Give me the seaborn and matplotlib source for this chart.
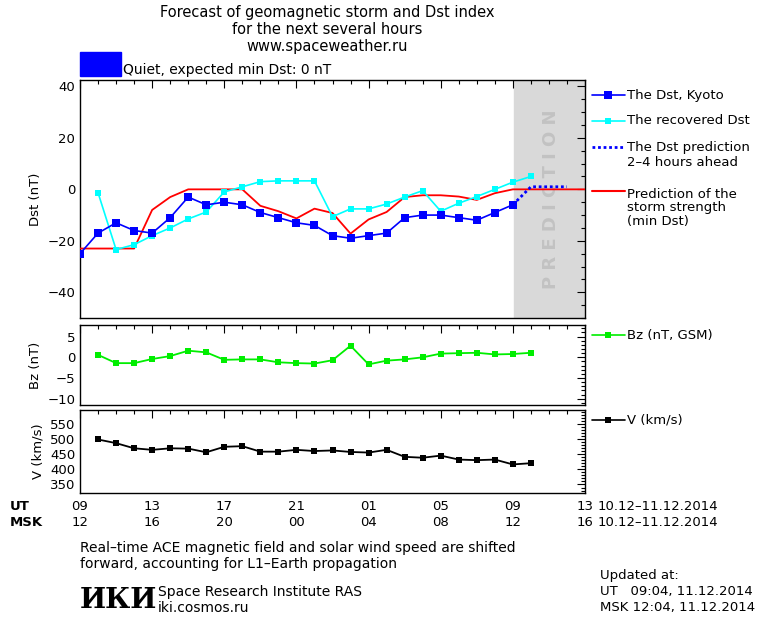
import numpy as np
import pandas as pd
import matplotlib
matplotlib.use("Agg")
import matplotlib.pyplot as plt
import seaborn as sns
from matplotlib.patches import Rectangle

sns.set_theme(style="white")
plt.rcParams['font.family'] = ['DejaVu Sans']
plt.rcParams.update({'text.color': 'black', 'axes.labelcolor': 'black',
                     'xtick.color': 'black', 'ytick.color': 'black'})

# hours counted from 00 UT of 10.12.2014
dst_hours = list(range(9, 34))
dst_kyoto = [-25, -17, -13, -16, -17, -11, -3, -6, -5, -6, -9, -11, -13, -14,
             -18, -19, -18, -17, -11, -10, -10, -11, -12, -9, -6]
rec_hours = list(range(10, 35))
dst_recovered = [-1.3, -23.4, -21.5, -18, -15, -11.5, -8.8, -1, 1, 3, 3.3, 3.3, 3.3,
                 -10.6, -7.6, -7.6, -5.7, -3, -0.5, -8.5, -5.4, -2.8, 0, 2.8, 5]
pred_hours = [33, 34, 36]
dst_pred = [-6, 1, 1]
storm_hours = [9, 12, 13, 14, 15, 16, 17, 18, 19, 20, 21, 22, 23, 24, 25, 26, 27,
               28, 29, 30, 31, 32, 33, 37]
storm_min = [-23, -23, -8, -3, 0, 0, 0, 0, -6.4, -8.5, -11.3, -7.5, -9.2, -17.2,
             -11.7, -8.8, -3, -2.3, -2.3, -2.8, -4.1, -1.5, 0, 0]
sw_hours = list(range(10, 35))
bz = [0.6, -1.4, -1.4, -0.4, 0.3, 1.6, 1.2, -0.6, -0.5, -0.5, -1.2, -1.4, -1.5,
      -0.7, 2.8, -1.7, -0.8, -0.5, 0, 0.9, 1, 1.1, 0.7, 0.8, 1.1]
speed = [498, 486, 469, 464, 469, 468, 456, 474, 476, 458, 458, 464, 460, 462,
         457, 455, 464, 441, 438, 445, 432, 430, 432, 416, 420]
ut_labels = ["09", "13", "17", "21", "01", "05", "09", "13"]
msk_labels = ["12", "16", "20", "00", "04", "08", "12", "16"]

fig = plt.figure(figsize=(7.6, 6.2), dpi=100)
fig.patch.set_facecolor("white")
ax1 = fig.add_axes([80/760, 1-318/620, 505/760, 238/620])
ax2 = fig.add_axes([80/760, 1-405/620, 505/760, 80/620])
ax3 = fig.add_axes([80/760, 1-493/620, 505/760, 83/620])

fs = 9.5
for ax in (ax1, ax2, ax3):
    ax.set_xlim(9, 37)
    ax.set_xticks(range(9, 38, 4))
    ax.set_xticks(range(9, 38), minor=True)
    ax.tick_params(which="both", direction="in", top=True, right=True,
                   labelsize=fs, length=6, width=0.8, colors="black")
    ax.tick_params(which="minor", length=3)
    ax.tick_params(axis="x", labelbottom=False)
    for s in ax.spines.values():
        s.set_color("black")
        s.set_linewidth(1)
    ax.set_facecolor("white")

# Dst panel
ax1.axvspan(33.08, 37, color="#d9d9d9", zorder=0)
ax1.text(35.1, -4, "P R E D I C T I O N", rotation=90, ha="center", va="center",
         fontsize=13, color="#c2c2c2", fontweight="bold")
sns.lineplot(x=storm_hours, y=storm_min, ax=ax1, color="red", lw=1.3, zorder=3)
sns.lineplot(x=rec_hours, y=dst_recovered, ax=ax1, color="cyan", lw=1.2,
             marker="s", markersize=4, markeredgewidth=0, zorder=4)
sns.lineplot(x=dst_hours, y=dst_kyoto, ax=ax1, color="blue", lw=1.2,
             marker="s", markersize=5.5, markeredgewidth=0, zorder=5)
ax1.plot(pred_hours, dst_pred, color="blue", lw=2, ls=(0, (1, 1)), zorder=5)
ax1.set_ylim(-50, 42.5)
ax1.set_yticks([-40, -20, 0, 20, 40])
ax1.set_yticks(range(-50, 43, 5), minor=True)
ax1.set_ylabel("Dst (nT)", fontsize=fs)

# Bz panel
sns.lineplot(x=sw_hours, y=bz, ax=ax2, color="#00ee00", lw=1.3, marker="s",
             markersize=4.5, markeredgewidth=0)
ax2.set_ylim(-11.5, 7.8)
ax2.set_yticks([-10, -5, 0, 5])
ax2.set_yticks(range(-11, 8), minor=True)
ax2.set_ylabel("Bz (nT)", fontsize=fs)

# V panel
sns.lineplot(x=sw_hours, y=speed, ax=ax3, color="black", lw=1.3, marker="s",
             markersize=4.5, markeredgewidth=0)
ax3.set_ylim(322, 595)
ax3.set_yticks([350, 400, 450, 500, 550])
ax3.set_yticks(range(330, 595, 10), minor=True)
ax3.set_ylabel("V (km/s)", fontsize=fs)

# x labels
for h, u, m in zip(range(9, 38, 4), ut_labels, msk_labels):
    xf = (80 + (h - 9) * 505 / 28) / 760
    fig.text(xf, 1-507/620, u, ha="center", va="center", fontsize=fs)
    fig.text(xf, 1-522/620, m, ha="center", va="center", fontsize=fs)
fig.text(10/760, 1-507/620, "UT", fontsize=fs, fontweight="bold", va="center")
fig.text(10/760, 1-522/620, "MSK", fontsize=fs, fontweight="bold", va="center")
fig.text(598/760, 1-507/620, "10.12\u201311.12.2014", fontsize=fs, va="center")
fig.text(598/760, 1-522/620, "10.12\u201311.12.2014", fontsize=fs, va="center")

# titles
fig.text(327/760, 1-12/620, "Forecast of geomagnetic storm and Dst index",
         ha="center", va="center", fontsize=10.5)
fig.text(327/760, 1-29/620, "for the next several hours", ha="center", va="center", fontsize=10.5)
fig.text(327/760, 1-46/620, "www.spaceweather.ru", ha="center", va="center", fontsize=10.5)
fig.patches.append(Rectangle((80/760, 1-76/620), 41/760, 24/620, color="blue",
                             transform=fig.transFigure))
fig.text(123/760, 1-70/620, "Quiet, expected min Dst: 0 nT", va="center", fontsize=10)

# right legends
def leg(y, color, marker, ms, ls="-", lw=1.2):
    yf = 1 - y/620
    fig.add_artist(plt.Line2D([592/760, 625/760], [yf, yf], color=color, lw=lw, ls=ls,
                              transform=fig.transFigure))
    if marker:
        fig.add_artist(plt.Line2D([608/760], [yf], color=color, marker=marker,
                                  markersize=ms, markeredgewidth=0, transform=fig.transFigure))

leg(95, "blue", "s", 5.5)
fig.text(627/760, 1-95/620, "The Dst, Kyoto", va="center", fontsize=fs)
leg(121, "cyan", "s", 4)
fig.text(627/760, 1-121/620, "The recovered Dst", va="center", fontsize=fs)
leg(147, "blue", None, 0, ls=(0, (1, 1)), lw=2)
fig.text(627/760, 1-155/620, "The Dst prediction\n2\u20134 hours ahead", va="center",
         fontsize=fs, linespacing=1.1)
leg(191, "red", None, 0, lw=1.5)
fig.text(627/760, 1-208/620, "Prediction of the\nstorm strength\n(min Dst)", va="center",
         fontsize=fs, linespacing=1.1)
leg(335, "#00ee00", "s", 4.5)
fig.text(627/760, 1-335/620, "Bz (nT, GSM)", va="center", fontsize=fs)
leg(420, "black", "s", 4.5)
fig.text(627/760, 1-420/620, "V (km/s)", va="center", fontsize=fs)

# bottom text
fig.text(80/760, 1-556/620, "Real\u2013time ACE magnetic field and solar wind speed are shifted\n"
         "forward, accounting for L1\u2013Earth propagation", va="center", fontsize=10,
         linespacing=1.2)
fig.text(80/760, 1-600/620, "\u0418\u041a\u0418", va="center", fontsize=20,
         fontweight="bold", family=["DejaVu Serif"])
fig.text(158/760, 1-600/620, "Space Research Institute RAS\niki.cosmos.ru", va="center",
         fontsize=10, linespacing=1.2)
fig.text(600/760, 1-575/620, "Updated at:", va="center", fontsize=fs)
fig.text(600/760, 1-592/620, "UT   09:04, 11.12.2014", va="center", fontsize=fs)
fig.text(600/760, 1-608/620, "MSK 12:04, 11.12.2014", va="center", fontsize=fs)

fig.savefig("out.png", dpi=100)
